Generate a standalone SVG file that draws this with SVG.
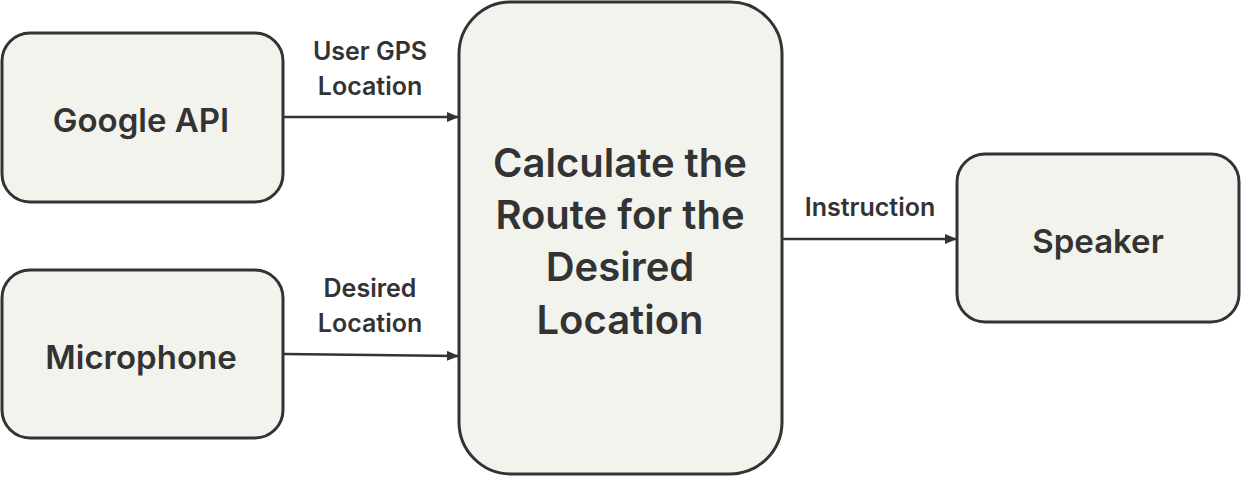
<svg xmlns="http://www.w3.org/2000/svg" width="1241" height="477" viewBox="0 0 1241 477">
<style>
.box{fill:#f3f3ee;stroke:#333333;stroke-width:3}
.t{font-family:Inter,"Liberation Sans",sans-serif;font-weight:600;fill:#333333;text-anchor:middle}
.big{font-size:33px}
.mid{font-size:40px}
.lbl{font-size:25px;font-weight:600}
.con{stroke:#333333;stroke-width:2.5;fill:none}
</style>
<defs>
<marker id="ah" markerWidth="12" markerHeight="10" refX="11" refY="5" orient="auto" markerUnits="userSpaceOnUse">
<path d="M0,0 L12,5 L0,10 Z" fill="#333333"/>
</marker>
</defs>
<rect width="1241" height="477" fill="#ffffff"/>
<g id="google">
<rect class="box" x="2" y="33" width="281" height="169" rx="28"/>
<text class="t big" x="141" y="132">Google API</text>
</g>
<g id="microphone">
<rect class="box" x="2" y="270" width="281" height="168" rx="28"/>
<text class="t big" x="141" y="369">Microphone</text>
</g>
<g id="route">
<rect class="box" x="459" y="2" width="323" height="472" rx="52"/>
<text class="t mid" x="620" y="177">Calculate the</text>
<text class="t mid" x="620" y="229">Route for the</text>
<text class="t mid" x="620" y="281">Desired</text>
<text class="t mid" x="620" y="334">Location</text>
</g>
<g id="speaker">
<rect class="box" x="957" y="154" width="282" height="168" rx="28"/>
<text class="t big" x="1098" y="253">Speaker</text>
</g>
<g id="connectors">
<line class="con" x1="284" y1="117" x2="458" y2="117" marker-end="url(#ah)"/>
<line class="con" x1="284" y1="354" x2="458" y2="356" marker-end="url(#ah)"/>
<line class="con" x1="783" y1="239" x2="956" y2="239" marker-end="url(#ah)"/>
<text class="t lbl" x="370" y="60">User GPS</text>
<text class="t lbl" x="370" y="95">Location</text>
<text class="t lbl" x="370" y="297">Desired</text>
<text class="t lbl" x="370" y="332">Location</text>
<text class="t lbl" x="870" y="216">Instruction</text>
</g>
</svg>
